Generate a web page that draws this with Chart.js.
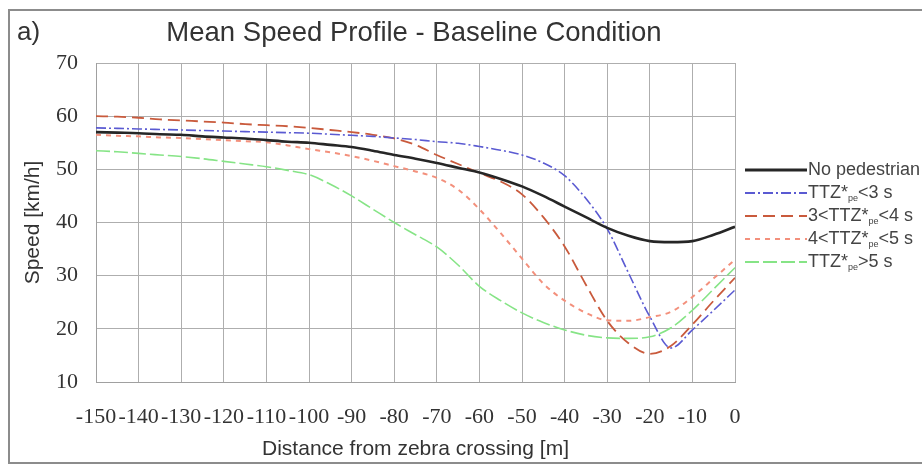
<!DOCTYPE html>
<html>
<head>
<meta charset="utf-8">
<title>Mean Speed Profile - Baseline Condition</title>
<script src="https://cdn.jsdelivr.net/npm/chart.js@4.4.1/dist/chart.umd.min.js"></script>
<style>
  html, body { margin: 0; padding: 0; background: #fff; overflow: hidden; }
  #wrap { position: relative; width: 922px; height: 464px; }
  #frame { position: absolute; left: 8px; top: 9px; width: 1000px; height: 451px; border: 2px solid #8c8c8c; }
  #myChart { position: absolute; left: 0; top: 0; }
</style>
</head>
<body>
<div id="wrap">
  <div id="frame"></div>
  <canvas id="myChart" width="922" height="464"></canvas>
</div>
<script>
// distance from the zebra crossing, every 5 m
var distances = [-150, -145, -140, -135, -130, -125, -120, -115, -110, -105, -100, -95, -90, -85, -80, -75,
  -70, -65, -60, -55, -50, -45, -40, -35, -30, -25, -20, -15, -10, -5, 0];

// mean speed [km/h]
var noPedestrian = [57, 56.9, 56.8, 56.6, 56.5, 56.2, 56, 55.8, 55.5, 55.2, 55, 54.6, 54.2, 53.5, 52.7, 52,
  51.2, 50.3, 49.4, 48.2, 46.8, 45, 43, 41, 39, 37.5, 36.5, 36.3, 36.5, 37.7, 39.2];
var ttzBelow3 = [57.8, 57.7, 57.6, 57.5, 57.4, 57.3, 57.2, 57.1, 57, 56.9, 56.8, 56.6, 56.4, 56.2, 55.9, 55.6,
  55.2, 54.9, 54.3, 53.6, 52.7, 51.2, 48.8, 44.5, 38.8, 30.5, 22.3, 16.4, 19.8, 23.5, 27.3];
var ttz3to4 = [60, 59.9, 59.7, 59.4, 59.2, 59, 58.8, 58.5, 58.3, 58.1, 57.8, 57.4, 57, 56.5, 55.8, 54.6,
  52.7, 51, 49.3, 47.7, 45.3, 41, 35.5, 28.3, 21.5, 17.3, 15.3, 16.8, 20.8, 25.3, 29.6];
var ttz4to5 = [56.5, 56.3, 56.2, 56, 55.9, 55.7, 55.5, 55.3, 55.1, 54.5, 53.8, 53.2, 52.5, 51.6, 50.6, 49.6,
  48.4, 46.2, 42.5, 38, 33.2, 28.5, 25.3, 23, 21.6, 21.5, 22.2, 23.2, 26, 29.5, 33];
var ttzAbove5 = [53.5, 53.3, 53, 52.7, 52.4, 52, 51.5, 51, 50.5, 49.8, 49, 47.2, 45, 42.5, 40, 37.7,
  35.4, 32, 28, 25.3, 23, 21.2, 19.8, 18.8, 18.3, 18.2, 18.5, 20.2, 23.5, 27.5, 31.5];

// legend text: [main, subscript, rest]
var seriesNames = [
  ['No pedestrian', '', ''],
  ['TTZ*', 'pe', '<3 s'],
  ['3<TTZ*', 'pe', '<4 s'],
  ['4<TTZ*', 'pe', '<5 s'],
  ['TTZ*', 'pe', '>5 s'],
];
var seriesValues = [noPedestrian, ttzBelow3, ttz3to4, ttz4to5, ttzAbove5];
var seriesColors = ['#262626', '#5a5ad2', '#c95a3c', '#f3907c', '#86e486'];
var seriesDash = [[], [10, 3, 2, 3], [12, 6], [5, 5], [14, 4]];
var seriesWidth = [2.6, 1.6, 1.8, 2, 1.6];

var sans = "'Liberation Sans', Arial, sans-serif";
var serif = "'Liberation Serif', 'Times New Roman', serif";

function toPoints(values) {
  return values.map(function (v, i) { return { x: distances[i], y: v }; });
}

var datasets = seriesValues.map(function (vals, i) {
  return {
    label: seriesNames[i].join(''),
    data: toPoints(vals),
    borderColor: seriesColors[i],
    backgroundColor: seriesColors[i],
    borderWidth: seriesWidth[i],
    borderDash: seriesDash[i],
    pointRadius: 0,
    tension: 0.4,
    cubicInterpolationMode: 'monotone',
    fill: false,
  };
});

// title, panel letter and the legend on the right
var decorations = {
  id: 'decorations',
  afterDraw: function (chart) {
    var ctx = chart.ctx;
    var area = chart.chartArea;
    ctx.save();
    ctx.fillStyle = '#333';
    ctx.textBaseline = 'middle';
    ctx.font = '26px ' + sans;
    ctx.textAlign = 'left';
    ctx.fillText('a)', 17, 33);
    ctx.font = '27.5px ' + sans;
    ctx.textAlign = 'center';
    ctx.fillText('Mean Speed Profile - Baseline Condition', 414, 33);

    ctx.textAlign = 'left';
    seriesNames.forEach(function (name, i) {
      var y = area.top + 107 + i * 23;
      var x0 = area.right + 10;
      ctx.beginPath();
      ctx.setLineDash(seriesDash[i]);
      ctx.strokeStyle = seriesColors[i];
      ctx.lineWidth = i === 0 ? 3 : 2;
      ctx.moveTo(x0, y);
      ctx.lineTo(x0 + 62, y);
      ctx.stroke();
      ctx.setLineDash([]);
      var x = x0 + 63;
      ctx.fillStyle = '#444';
      ctx.font = '18px ' + sans;
      ctx.fillText(name[0], x, y);
      x += ctx.measureText(name[0]).width;
      if (name[1]) {
        ctx.font = '9px ' + sans;
        ctx.fillText(name[1], x, y + 6);
        x += ctx.measureText(name[1]).width;
        ctx.font = '18px ' + sans;
        ctx.fillText(name[2], x, y);
      }
    });
    ctx.restore();
  },
};

const config = {
  type: 'line',
  data: { datasets: datasets },
  options: {
    responsive: false,
    animation: false,
    devicePixelRatio: 1,
    layout: { padding: { left: 10, top: 63, right: 187, bottom: 0 } },
    plugins: {
      legend: { display: false },
      tooltip: { enabled: false },
      title: { display: false },
    },
    scales: {
      x: {
        type: 'linear',
        min: -150,
        max: 0,
        afterFit: function (scale) { scale.height = 82; },
        ticks: {
          stepSize: 10,
          padding: 22,
          maxRotation: 0,
          autoSkip: false,
          color: '#333',
          font: { family: serif, size: 22 },
        },
        grid: { color: '#aeaeae', lineWidth: 1, drawTicks: false },
        border: { color: '#a0a0a0' },
        title: {
          display: true,
          text: 'Distance from zebra crossing [m]',
          color: '#333',
          font: { family: sans, size: 21 },
          padding: { top: 0, bottom: 2 },
        },
      },
      y: {
        min: 10,
        max: 70,
        afterFit: function (scale) { scale.width = 86; },
        ticks: {
          stepSize: 10,
          padding: 18,
          color: '#333',
          font: { family: serif, size: 22 },
        },
        grid: { color: '#aeaeae', lineWidth: 1, drawTicks: false },
        border: { color: '#a0a0a0' },
        title: {
          display: true,
          text: 'Speed [km/h]',
          color: '#333',
          font: { family: sans, size: 21 },
          padding: { top: 11, bottom: 0 },
        },
      },
    },
  },
  plugins: [decorations],
};

var myChart = new Chart(document.getElementById('myChart'), config);
</script>
</body>
</html>
